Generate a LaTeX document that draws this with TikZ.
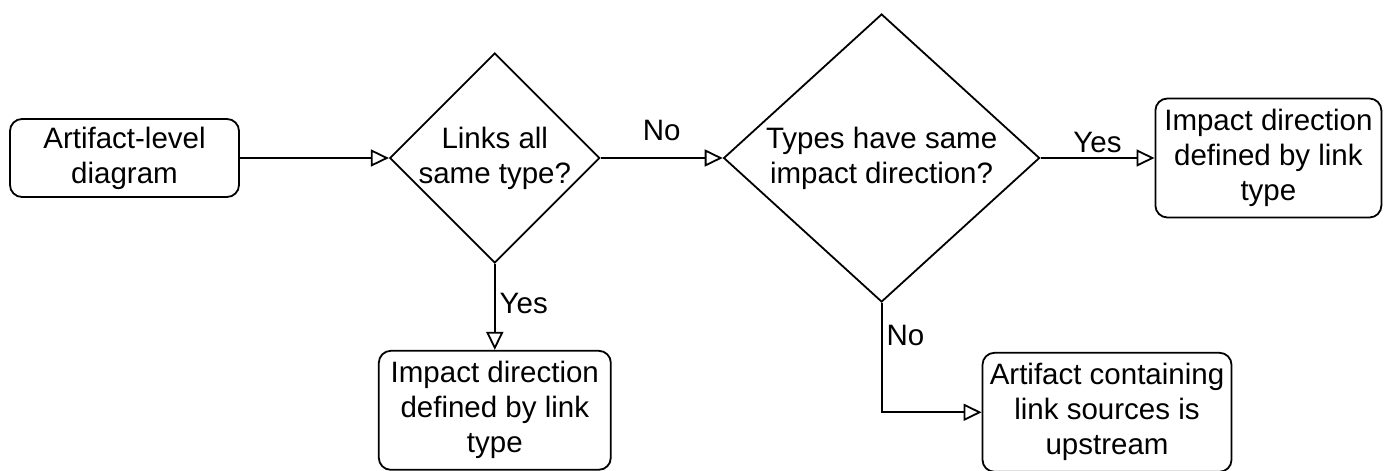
\documentclass[tikz,border=0pt]{standalone}
\usepackage{fontspec}
\setmainfont{Liberation Sans}
\usetikzlibrary{arrows.meta,positioning,shapes.geometric}

\begin{document}
\begin{tikzpicture}[
  font=\fontsize{29.5pt}{35pt}\selectfont,
  line width=1.8pt,
  box/.style ={draw, rounded corners=12pt, align=center, inner sep=2pt, minimum height=119pt},
  dec/.style ={draw, diamond, align=center, inner sep=-3pt},
  ar/.style  ={-{Triangle[open, length=18pt, width=17pt]}},
  lbl/.style ={inner sep=4pt},
]
\useasboundingbox (0,0) rectangle (1387pt,-471pt);

% --- top row ---
\node[box, minimum width=229pt, minimum height=78pt] (art) at (124.5pt,-158pt) {Artifact-level\\diagram};
\node[dec, right=149pt of art, minimum width=210pt, minimum height=210pt] (same) {Links all\\same type?};
\node[dec, right=122pt of same, minimum width=316pt, minimum height=288pt] (dir) {Types have same\\impact direction?};
\node[box, right=114pt of dir, minimum width=226pt] (bytype) {Impact direction\\defined by link\\type};

% --- bottom row ---
\node[box, below=86pt of same, minimum width=232pt] (bytypeB) {Impact direction\\defined by link\\type};
\node[box, below right=49pt and 100pt of dir.south, minimum width=249pt] (src) {Artifact containing\\link sources is\\upstream};

% --- edges ---
\draw[ar] (art) -- (same);
\draw[ar] (same) -- node[lbl, above=12pt] {No} (dir);
\draw[ar] (dir) -- node[lbl, above] {Yes} (bytype);
\draw[ar] (same) -- node[lbl, right, pos=0.46] {Yes} (bytypeB);
\draw[ar] (dir) |- node[lbl, right, pos=0.15] {No} (src);
\end{tikzpicture}
\end{document}
